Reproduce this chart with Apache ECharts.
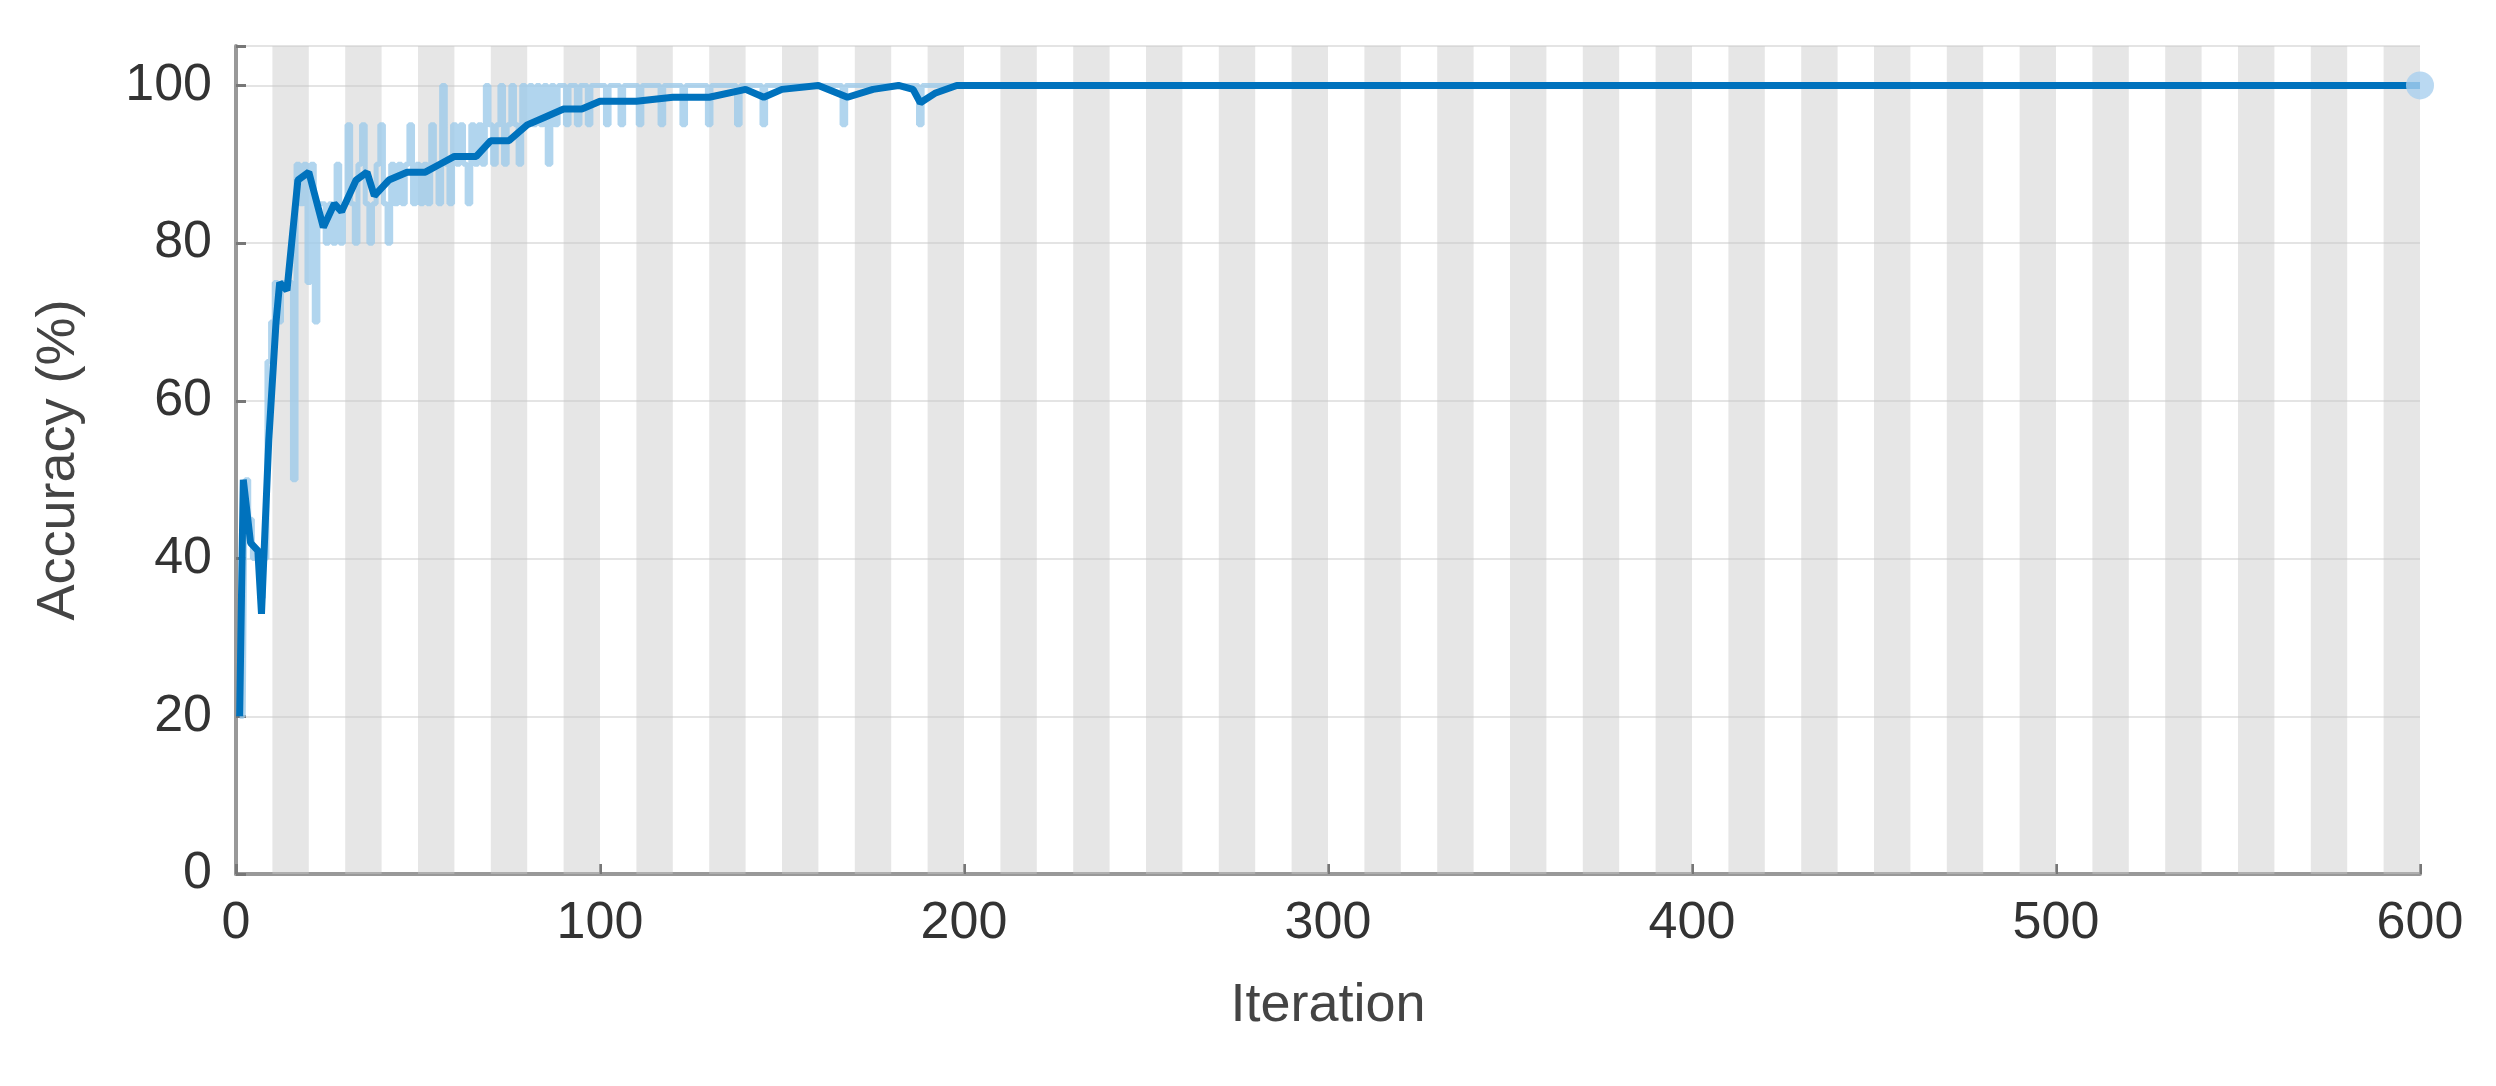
<!DOCTYPE html>
<html><head><meta charset="utf-8">
<script src="https://cdn.jsdelivr.net/npm/echarts@6/dist/echarts.min.js"></script>
<style>html,body{margin:0;padding:0;background:#fff}#chart{width:2496px;height:1086px}</style>
</head><body><div id="chart"></div>
<script>
// raw accuracy per iteration 1..200
var rawAcc = [20,20,50,45,40,40,35,40,65,70,75,70,75,75,75,50,90,85,90,75,
  90,70,85,85,80,85,80,90,80,85,95,85,80,90,95,85,80,85,90,95,
  85,80,90,85,90,85,90,95,85,90,85,90,85,95,90,85,100,90,85,95,
  90,95,90,85,95,90,95,90,100,95,90,95,100,90,95,100,95,90,100,95,
  100,95,100,95,100,90,100,95,100,100,95,100,100,95,100,100,95,100,100,100,
  100,95,100,100,100,95,100,100,100,100,95,100,100,100,100,100,95,100,100,100,
  100,100,95,100,100,100,100,100,100,95,100,100,100,100,100,100,100,95,100,100,
  100,100,100,100,95,100,100,100,100,100,100,100,100,100,100,100,100,100,100,100,
  100,100,100,100,100,100,95,100,100,100,100,100,100,100,100,100,100,100,100,100,
  100,100,100,100,100,100,100,95,100,100,100,100,100,100,100,100,100,100,100,100];
var smoothIter = [1,2,4,6,7,9,11,12,14,17,20,24,27,29,33,36,38,42,47,52,56,60,66,70,75,80,85,90,95,100,110,120,130,140,145,150,160,168,175,182,186,188,192,198,600];
var smoothAcc  = [20,50,42,41,33,55,70,75,74,88,89,82,85,84,88,89,86,88,89,89,90,91,91,93,93,95,96,97,97,98,98,98.5,98.5,99.5,98.5,99.5,100,98.5,99.5,100,99.5,97.8,99,100,100];
var xTicks = [0,100,200,300,400,500,600];
var yTicks = [0,20,40,60,80,100];

var bands = [];
for (var b = 10; b < 600; b += 20) bands.push([{xAxis: b}, {xAxis: b + 10}]);
var rawData = rawAcc.map(function (v, i) { return [i + 1, v]; });
var smoothData = smoothIter.map(function (it, i) { return [it, smoothAcc[i]]; });

var font = 'Liberation Sans, Arial, sans-serif';
var chart = echarts.init(document.getElementById('chart'));
chart.setOption({
  animation: false,
  grid: {left: 236, right: 76, top: 46, bottom: 212},
  xAxis: {
    type: 'value', min: 0, max: 600, interval: 100,
    name: 'Iteration', nameLocation: 'middle', nameGap: 105,
    nameTextStyle: {fontFamily: font, fontSize: 54, color: '#444'},
    axisLine: {lineStyle: {color: '#999', width: 4}},
    axisTick: {inside: true, length: 10, lineStyle: {color: '#777', width: 3}},
    axisLabel: {fontFamily: font, fontSize: 52, color: '#333', margin: 24},
    splitLine: {show: false}
  },
  yAxis: {
    type: 'value', min: 0, max: 105, interval: 20,
    name: 'Accuracy (%)', nameLocation: 'middle', nameGap: 150,
    nameTextStyle: {fontFamily: font, fontSize: 54, color: '#444'},
    axisLine: {show: true, lineStyle: {color: '#999', width: 4}},
    axisTick: {show: true, inside: true, length: 10, lineStyle: {color: '#777', width: 3}},
    axisLabel: {fontFamily: font, fontSize: 52, color: '#333', margin: 24,
      formatter: function (v) { return yTicks.indexOf(v) >= 0 ? v : ''; }},
    splitLine: {lineStyle: {color: '#e4e4e4', width: 2}}
  },
  series: [
    {
      type: 'line', data: rawData, step: 'middle', symbol: 'none', z: 2,
      lineStyle: {color: '#9ecbea', width: 5, opacity: 0.8},
      markArea: {silent: true, itemStyle: {color: 'rgba(200,200,200,0.45)'}, data: bands}
    },
    {
      type: 'line', data: smoothData, symbol: 'none', z: 3,
      lineStyle: {color: '#0072bd', width: 7}
    },
    {
      type: 'scatter', data: [[600, 100]], symbolSize: 28, z: 4,
      itemStyle: {color: '#a9d0ef'}
    }
  ]
});
</script></body></html>
